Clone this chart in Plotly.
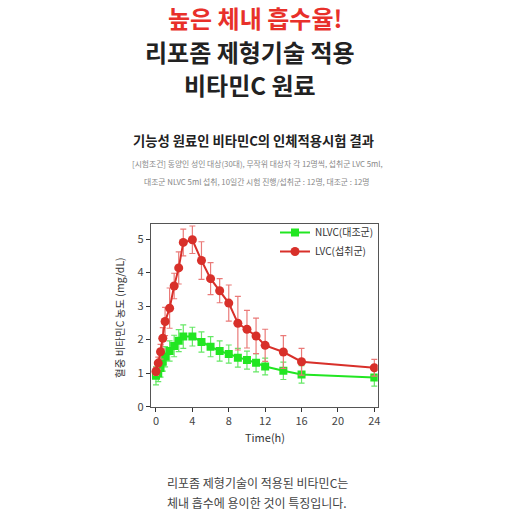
import plotly.graph_objects as go

time_h = [0, 0.25, 0.5, 0.75, 1, 1.5, 2, 2.5, 3, 4, 5, 6, 7, 8, 9, 10, 11, 12, 14, 16, 24]
lvc = [1.05, 1.30, 1.64, 2.04, 2.54, 2.94, 3.60, 4.14, 4.90, 4.98, 4.36, 3.82, 3.46, 3.09, 2.49, 2.31, 2.11, 1.83, 1.63, 1.34, 1.16]
lvc_err = [0.12, 0.18, 0.22, 0.32, 0.42, 0.60, 0.38, 0.48, 0.40, 0.41, 0.56, 0.48, 0.36, 0.54, 0.80, 0.56, 0.53, 0.48, 0.49, 0.40, 0.25]
nlvc = [0.92, 1.00, 1.15, 1.34, 1.49, 1.66, 1.81, 1.97, 2.09, 2.09, 1.93, 1.79, 1.66, 1.57, 1.46, 1.39, 1.31, 1.20, 1.07, 0.96, 0.87]
nlvc_err = [0.27, 0.25, 0.27, 0.28, 0.30, 0.30, 0.32, 0.33, 0.35, 0.28, 0.30, 0.30, 0.30, 0.27, 0.28, 0.27, 0.27, 0.25, 0.26, 0.26, 0.26]
x_ticks = [0, 4, 8, 12, 16, 20, 24]
y_ticks = [0, 1, 2, 3, 4, 5]

KR = "Noto Sans CJK KR"
fig = go.Figure()
fig.add_trace(go.Scatter(
    x=time_h, y=nlvc, name="NLVC(대조군)", mode="lines+markers",
    line=dict(color="#22e622", width=2),
    marker=dict(symbol="square", size=8, color="#22e622"),
    error_y=dict(type="data", array=nlvc_err, color="#66e866", thickness=1.2, width=3),
))
fig.add_trace(go.Scatter(
    x=time_h, y=lvc, name="LVC(섭취군)", mode="lines+markers",
    line=dict(color="#d8302a", width=2),
    marker=dict(symbol="circle", size=9, color="#d8302a"),
    error_y=dict(type="data", array=lvc_err, color="#ea7a78", thickness=1.2, width=3),
))

W = 510.0
def px(x):
    return x / W
def py(y):
    return 1 - y / W

fig.update_layout(
    width=510, height=510, margin=dict(l=0, r=0, t=0, b=0),
    paper_bgcolor="white", plot_bgcolor="white",
    font=dict(family=KR, color="#333"),
    showlegend=True,
    legend=dict(x=px(275), y=py(218), xanchor="left", yanchor="top",
                font=dict(size=10, color="#333", family=KR),
                bgcolor="rgba(0,0,0,0)", tracegroupgap=0, itemwidth=30,
                traceorder="normal"),
    xaxis=dict(domain=[px(150.7), px(377.7)], range=[-0.58, 24.37],
               tickvals=x_ticks, ticks="outside", ticklen=4, tickcolor="#333",
               showline=True, linecolor="#555", linewidth=1, mirror=True,
               showgrid=False, zeroline=False, automargin=False,
               tickfont=dict(size=11, color="#444", family=KR)),
    yaxis=dict(domain=[py(407), py(224)], range=[-0.01, 5.45],
               tickvals=y_ticks, ticks="outside", ticklen=4, tickcolor="#333",
               showline=True, linecolor="#555", linewidth=1, mirror=True,
               showgrid=False, zeroline=False, automargin=False,
               tickfont=dict(size=11, color="#444", family=KR)),
)

def note(text, x, y, size, color, bold=False, angle=0):
    fig.add_annotation(text=("<b>%s</b>" % text) if bold else text,
                       x=px(x), y=py(y), xref="paper", yref="paper",
                       xanchor="center", yanchor="middle", showarrow=False,
                       textangle=angle,
                       font=dict(size=size, color=color, family=KR))

note("높은 체내 흡수율!", 255, 18, 24, "#e8302a", bold=True)
note("리포좀 제형기술 적용", 250, 52, 24, "#222", bold=True)
note("비타민C 원료", 250, 85, 24, "#222", bold=True)
note("기능성 원료인 비타민C의 인체적용시험 결과", 253, 140, 13.3, "#222", bold=True)
note("[시험조건] 동양인 성인 대상(30대), 무작위 대상자 각 12명씩, 섭취군 LVC 5ml,", 257, 163, 7.8, "#888")
note("대조군 NLVC 5ml 섭취, 10일간 시험 진행/섭취군 : 12명, 대조군 : 12명", 257, 181, 7.8, "#888")
note("Time(h)", 265, 437, 11, "#333")
note("혈중 비타민C 농도 (mg/dL)", 119, 318, 10.5, "#333", angle=-90)
note("리포좀 제형기술이 적용된 비타민C는", 257, 482, 12, "#444")
note("체내 흡수에 용이한 것이 특징입니다.", 257, 502, 12, "#444")

fig.write_html("out.html")
